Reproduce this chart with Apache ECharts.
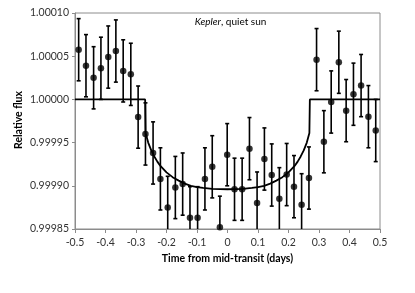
<!DOCTYPE html>
<html>
<head>
<meta charset="utf-8">
<script src="https://cdn.jsdelivr.net/npm/echarts@6/dist/echarts.min.js"></script>
<style>
html,body{margin:0;padding:0;background:#fff;}
#chart{width:415px;height:293px;}
</style>
</head>
<body>
<div id="chart"></div>
<script>
// Observed data: time from mid-transit (days) and relative flux
var times = [-0.488, -0.464, -0.439, -0.415, -0.391, -0.366, -0.342, -0.317, -0.293, -0.269,
  -0.244, -0.220, -0.196, -0.171, -0.147, -0.123, -0.098, -0.074, -0.050, -0.025,
  -0.001, 0.023, 0.048, 0.072, 0.097, 0.121, 0.145, 0.170, 0.194, 0.218,
  0.243, 0.267, 0.292, 0.316, 0.340, 0.365, 0.389, 0.413, 0.438, 0.462, 0.486];
var flux = [1.0000575, 1.000039, 1.000025, 1.000036, 1.000049, 1.000056, 1.000033, 1.000029, 0.9999795, 0.99996,
  0.999938, 0.999908, 0.999875, 0.999898, 0.999902, 0.999863, 0.999863, 0.999908, 0.999922, 0.999852,
  0.999936, 0.999896, 0.999896, 0.999943, 0.99988, 0.999931, 0.9999125, 0.999885, 0.999913, 0.999899,
  0.999878, 0.999909, 1.000046, 0.999951, 0.999997, 1.000043, 0.999987, 1.000006, 1.000016, 0.99998, 0.999964];
var fluxErr = [0.000036, 0.000036, 0.000036, 0.000036, 0.000036, 0.000036, 0.000036, 0.000036, 0.000036, 0.000036,
  0.000036, 0.000036, 0.000036, 0.000036, 0.000036, 0.000036, 0.000036, 0.000036, 0.000036, 0.000036,
  0.000036, 0.000036, 0.000036, 0.000036, 0.000036, 0.000036, 0.000036, 0.000036, 0.000036, 0.000036,
  0.000036, 0.000036, 0.000036, 0.000036, 0.000036, 0.000036, 0.000036, 0.000036, 0.000036, 0.000036, 0.000036];

// Model transit curve
var modelTime = [-0.5, -0.27, -0.2685, -0.26, -0.25, -0.24, -0.23, -0.22, -0.20, -0.18, -0.16, -0.14, -0.12, -0.10, -0.08, -0.05, 0,
  0.05, 0.08, 0.10, 0.12, 0.14, 0.16, 0.18, 0.20, 0.22, 0.23, 0.24, 0.25, 0.26, 0.2685, 0.27, 0.5];
var modelFlux = [1.0, 1.0, 0.999961, 0.99995, 0.999941, 0.999934, 0.999928, 0.999923, 0.9999155, 0.99991, 0.999906, 0.9999025, 0.9999, 0.9998985, 0.9998975, 0.9998965, 0.999896,
  0.9998965, 0.9998975, 0.9998985, 0.9999, 0.9999025, 0.999906, 0.99991, 0.9999155, 0.999923, 0.999928, 0.999934, 0.999941, 0.99995, 0.999961, 1.0, 1.0];

// Axis settings
var xMin = -0.5, xMax = 0.5, xStep = 0.1;
var yMin = 0.99985, yMax = 1.0001, yStep = 0.00005;
var annotation = ['Kepler', ', quiet sun'];
var xTitle = 'Time from mid-transit (days)';
var yTitle = 'Relative flux';

var pts = times.map(function (t, i) { return [t, flux[i]]; });
var bars = times.map(function (t, i) { return [t, flux[i] - fluxErr[i], flux[i] + fluxErr[i]]; });
var model = modelTime.map(function (t, i) { return [t, modelFlux[i]]; });

var FONT = 'Lato';
var chart = echarts.init(document.getElementById('chart'), null, {renderer: 'canvas'});
chart.setOption({
  animation: false,
  backgroundColor: '#ffffff',
  grid: {left: 75, top: 13, width: 305, height: 216, show: true, borderColor: '#8c8c8c', borderWidth: 1, backgroundColor: 'transparent'},
  xAxis: {
    type: 'value', min: xMin, max: xMax, interval: xStep,
    splitLine: {show: false},
    axisLine: {onZero: false, lineStyle: {color: '#8c8c8c', width: 1}},
    axisTick: {show: true, inside: false, length: 4, lineStyle: {color: '#8c8c8c'}},
    axisLabel: {color: '#333333', fontFamily: FONT, fontSize: 10.5, margin: 8,
      formatter: function (v) { return Math.abs(v) < 1e-9 ? '0' : v.toFixed(1); }}
  },
  yAxis: {
    type: 'value', min: yMin, max: yMax, interval: yStep,
    splitLine: {show: false},
    axisLine: {show: true, onZero: false, lineStyle: {color: '#8c8c8c', width: 1}},
    axisTick: {show: true, inside: false, length: 3, lineStyle: {color: '#8c8c8c'}},
    axisLabel: {color: '#333333', fontFamily: FONT, fontSize: 10.5, margin: 6,
      formatter: function (v) { return v.toFixed(5); }}
  },
  graphic: [
    {type: 'text', x: 230.5, y: 22, style: {
      text: '{i|' + annotation[0] + '}{n|' + annotation[1] + '}',
      textAlign: 'center', textVerticalAlign: 'middle',
      rich: {i: {fontFamily: FONT, fontSize: 10, fontStyle: 'italic', fill: '#000'}, n: {fontFamily: FONT, fontSize: 10, fill: '#000'}}
    }},
    {type: 'text', x: 227.5, y: 259, style: {text: xTitle, textAlign: 'center', textVerticalAlign: 'middle',
      fontFamily: FONT, fontSize: 10.5, fontWeight: 'bold', fill: '#000'}},
    {type: 'text', x: 19, y: 120, rotation: Math.PI / 2, style: {text: yTitle, textAlign: 'center', textVerticalAlign: 'middle',
      fontFamily: FONT, fontSize: 10.5, fontWeight: 'bold', fill: '#000'}}
  ],
  series: [
    {
      type: 'line', data: model, showSymbol: false, symbol: 'none', smooth: false,
      lineStyle: {color: '#000', width: 1.8}, z: 2, silent: true
    },
    {
      type: 'custom', data: bars, clip: true, z: 3, silent: true,
      renderItem: function (params, api) {
        var x = api.value(0);
        var lo = api.coord([x, api.value(1)]);
        var hi = api.coord([x, api.value(2)]);
        var cw = 2;
        var st = {stroke: '#000', lineWidth: 1.6, fill: null};
        return {type: 'group', children: [
          {type: 'line', shape: {x1: lo[0], y1: lo[1], x2: hi[0], y2: hi[1]}, style: st},
          {type: 'line', shape: {x1: lo[0] - cw, y1: lo[1], x2: lo[0] + cw, y2: lo[1]}, style: st},
          {type: 'line', shape: {x1: hi[0] - cw, y1: hi[1], x2: hi[0] + cw, y2: hi[1]}, style: st}
        ]};
      }
    },
    {
      type: 'scatter', data: pts, symbol: 'circle', symbolSize: 6.5,
      itemStyle: {color: '#000'}, z: 4, silent: true
    }
  ]
});
</script>
</body>
</html>
